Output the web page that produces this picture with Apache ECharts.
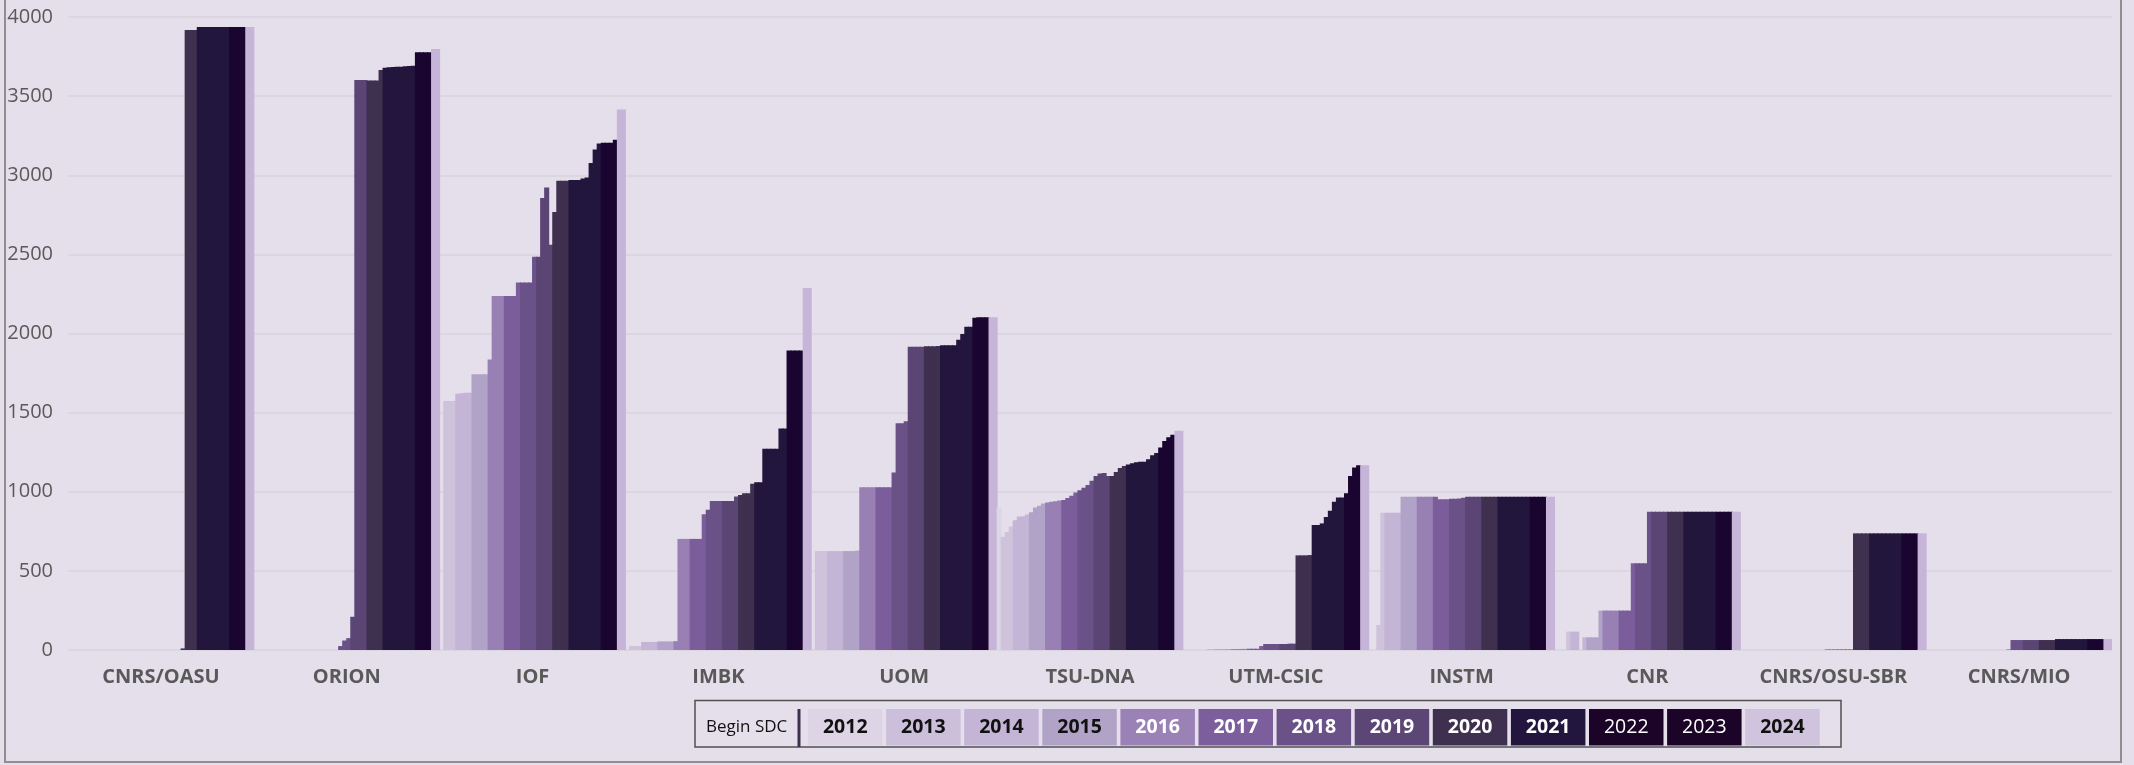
<!DOCTYPE html>
<html>
<head>
<meta charset="utf-8">
<script src="https://cdn.jsdelivr.net/npm/echarts@6/dist/echarts.min.js"></script>
<style>
html,body{margin:0;padding:0;background:#e5dfeb;}
#chart{width:2134px;height:765px;}
</style>
</head>
<body>
<div id="chart"></div>
<script>
// ---- data ----
const categories = ['CNRS/OASU','ORION','IOF','IMBK','UOM','TSU-DNA','UTM-CSIC','INSTM','CNR','CNRS/OSU-SBR','CNRS/MIO'];
const years = ['2012','2013','2014','2015','2016','2017','2018','2019','2020','2021','2022','2023','2024'];
// number of quarterly snapshots per year shown in each group
const quartersPerYear = [1,3,4,4,4,4,4,4,4,4,4,4,2];
const yTicks = [0,500,1000,1500,2000,2500,3000,3500,4000];

// values per group, one per quarterly snapshot (46)
const cnrsOasu = [0, 0,0,0, 0,0,0,0, 0,0,0,0, 0,0,0,0, 0,0,0,0, 0,0,0,0, 0,0,0,0, 10,3918,3918,3918, 3937,3937,3937,3937, 3937,3937,3937,3937, 3937,3937,3937,3937, 3937,3937];
const orion = [0, 0,0,0, 0,0,0,0, 0,0,0,0, 0,0,0,0, 0,0,0,0, 0,25,60,75, 210,3602,3602,3602, 3598,3598,3598,3665, 3680,3682,3684,3685, 3686,3688,3690,3692, 3777,3777,3777,3777, 3798,3798];
const iof = [0, 1574,1574,1574, 1620,1622,1625,1625, 1743,1743,1743,1743, 1836,2237,2237,2237, 2237,2237,2237,2322, 2322,2322,2322,2485, 2485,2857,2922,2561, 2767,2965,2965,2965, 2970,2970,2970,2980, 2985,3078,3162,3200, 3205,3205,3205,3225, 3416,3416];
const imbk = [0, 25,25,25, 51,51,51,51, 54,54,54,54, 56,702,702,702, 702,702,702,858, 886,942,942,942, 942,942,942,970, 980,990,990,1050, 1060,1060,1272,1272, 1272,1272,1399,1399, 1893,1893,1893,1893, 2288,2288];
const uom = [0, 625,625,625, 625,625,625,625, 625,625,625,628, 1028,1028,1028,1028, 1028,1028,1028,1028, 1121,1433,1433,1445, 1917,1917,1917,1917, 1920,1920,1920,1921, 1925,1925,1925,1925, 1960,1997,2043,2043, 2100,2102,2102,2102, 2102,2102];
const tsuDna = [895, 715,745,780, 820,843,845,857, 870,900,912,925, 932,937,940,945, 948,960,975,995, 1010,1025,1042,1070, 1100,1115,1118,1100, 1100,1125,1150,1162, 1172,1180,1187,1190, 1190,1205,1230,1245, 1280,1320,1345,1360, 1386,1386];
const utmCsic = [0, 0,0,0, 0,0,5,5, 5,5,6,6, 6,6,7,7, 8,8,8,25, 38,38,38,38, 38,38,40,40, 598,598,598,600, 790,790,800,840, 880,937,964,964, 990,1100,1154,1167, 1167,1167];
const instm = [0, 0,158,868, 868,868,868,868, 969,969,969,969, 969,969,969,969, 969,952,952,952, 955,955,958,962, 969,969,969,969, 969,969,969,969, 969,969,969,969, 969,969,969,969, 969,969,969,969, 969,969];
const cnr = [0, 0,0,116, 116,116,0,80, 80,80,80,249, 249,249,249,249, 249,249,249,548, 548,548,548,874, 874,874,874,874, 874,874,874,874, 874,874,874,874, 874,874,874,874, 874,874,874,874, 874,874];
const cnrsOsuSbr = [0, 0,0,0, 0,0,0,0, 0,0,0,0, 0,0,0,0, 0,0,0,0, 0,3,3,3, 3,3,3,3, 737,737,737,737, 737,737,737,737, 737,737,737,737, 737,737,737,737, 737,737];
const cnrsMio = [0, 0,0,0, 0,0,0,0, 0,0,0,0, 0,0,0,0, 0,0,0,0, 3,63,63,63, 63,63,63,63, 63,63,63,63, 69,69,69,69, 69,69,69,69, 69,69,69,69, 69,69];
const groups = [cnrsOasu, orion, iof, imbk, uom, tsuDna, utmCsic, instm, cnr, cnrsOsuSbr, cnrsMio];

// ---- styles ----
const barColors = ['#ddd6e6','#cfc3dc','#c4b5d6','#b1a3c8','#9880b4','#7b5d9b','#6a5289','#5a4574','#3f3050','#23163d','#23163d','#1a0530','#c6b5d8'];
const legendColors = ['#ddd5e6','#cbbfdc','#c4b5d6','#b1a3c8','#9a82b6','#7c5e9c','#6a5289','#5b4676','#3f3050','#23163e','#1b0428','#1b0428','#cfc3dd'];
const legendText = ['#111','#111','#111','#111','#fff','#fff','#fff','#fff','#fff','#fff','#fff','#fff','#111'];
const legendWeight = ['bold','bold','bold','bold','bold','bold','bold','bold','bold','bold','normal','normal','bold'];

// slot -> year index
const slotYear = [];
quartersPerYear.forEach((n, yi) => { for (let k = 0; k < n; k++) slotYear.push(yi); });

const slotIds = [];
const barData = [];
groups.forEach((arr, ci) => {
  arr.forEach((v, si) => {
    slotIds.push(categories[ci] + '|' + si);
    barData.push({ value: v, itemStyle: { color: barColors[slotYear[si]] } });
  });
});

const GL = 68, GR = 22, GT = 17, GB = 115;
const W = 2134;
const slotW = (W - GL - GR) / slotIds.length;

// legend graphic
const graphics = [];
graphics.push({ type: 'rect', shape: { x: 5, y: -10, width: 2116, height: 772 }, style: { fill: null, stroke: '#8f8f8f', lineWidth: 2 }, silent: true });
graphics.push({ type: 'rect', shape: { x: 695, y: 700.5, width: 1146, height: 46.5 }, style: { fill: null, stroke: '#505050', lineWidth: 1.5 }, silent: true });
graphics.push({ type: 'text', x: 706, y: 727, style: { text: 'Begin SDC', font: '17px "Open Sans"', fill: '#111', verticalAlign: 'middle', align: 'left' }, silent: true });
graphics.push({ type: 'rect', shape: { x: 797.5, y: 709, width: 3, height: 38 }, style: { fill: '#3f3050' }, silent: true });
years.forEach((y, i) => {
  const x = 808 + 78.1 * i;
  graphics.push({ type: 'rect', shape: { x: x, y: 709, width: 74.5, height: 36.5 }, style: { fill: legendColors[i] }, silent: true });
  graphics.push({ type: 'text', x: x + 37.25, y: 727.5, style: { text: y, font: legendWeight[i] + ' 19.5px "Open Sans"', fill: legendText[i], align: 'center', verticalAlign: 'middle' }, silent: true });
});

const chart = echarts.init(document.getElementById('chart'), null, { renderer: 'canvas' });
chart.setOption({
  backgroundColor: '#e5dfeb',
  animation: false,
  grid: { left: GL, right: GR, top: GT, bottom: GB, containLabel: false },
  xAxis: [
    {
      type: 'category', data: categories, position: 'bottom',
      axisLine: { show: false }, axisTick: { show: false },
      axisLabel: { color: '#595959', fontFamily: 'Open Sans', fontWeight: 'bold', fontSize: 20, margin: 17, interval: 0 },
      splitLine: { show: false }
    },
    {
      type: 'category', data: slotIds, position: 'bottom', show: false,
      axisLine: { show: false }, axisTick: { show: false }, axisLabel: { show: false }
    }
  ],
  yAxis: {
    type: 'value', min: yTicks[0], max: yTicks[yTicks.length - 1], interval: 500,
    axisLine: { show: false }, axisTick: { show: false },
    axisLabel: { color: '#595959', fontFamily: 'Open Sans', fontSize: 20, margin: 15, formatter: function (v) { return String(v); } },
    splitLine: { lineStyle: { color: '#d8d3dc', width: 1.5 } }
  },
  series: [{
    type: 'bar', xAxisIndex: 1, data: barData,
    barWidth: slotW + 1, barGap: '0%', barCategoryGap: '0%',
    itemStyle: { borderWidth: 0 }
  }],
  graphic: graphics
});
</script>
</body>
</html>
